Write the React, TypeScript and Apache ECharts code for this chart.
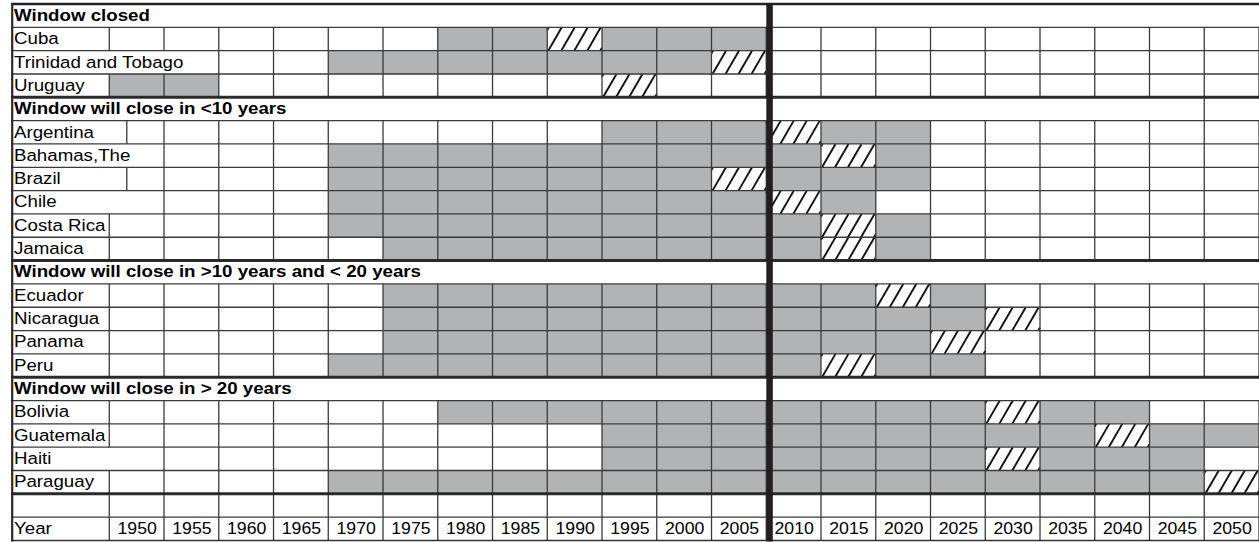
import React, { useEffect, useRef } from "react";
import * as echarts from "echarts";

// ---------- data ----------
const yearLabels = [
  "1950", "1955", "1960", "1965", "1970", "1975", "1980", "1985", "1990", "1995", "2000",
  "2005", "2010", "2015", "2020", "2025", "2030", "2035", "2040", "2045", "2050",
];

const rowLabels = [
  "Window closed", "Cuba", "Trinidad and Tobago", "Uruguay",
  "Window will close in <10 years", "Argentina", "Bahamas,The", "Brazil", "Chile", "Costa Rica", "Jamaica",
  "Window will close in >10 years and < 20 years", "Ecuador", "Nicaragua", "Panama", "Peru",
  "Window will close in > 20 years", "Bolivia", "Guatemala", "Haiti", "Paraguay",
  "", "Year",
];

const rowKinds = [
  "header", "country", "country", "country",
  "header", "country", "country", "country", "country", "country", "country",
  "header", "country", "country", "country", "country",
  "header", "country", "country", "country", "country",
  "blank", "year",
];

// g = window open (grey), h = window closes (hatched), . = empty  (one char per year column)
const rowStates = [
  "",
  "......gghggg.........",
  "....gggggggh.........",
  "gg.......h...........",
  "",
  ".........ggghgg......",
  "....ggggggggghg......",
  "....ggggggghggg......",
  "....gggggggghg.......",
  "....ggggggggghg......",
  ".....gggggggghg......",
  "",
  ".....ggggggggghg.....",
  ".....gggggggggggh....",
  ".....ggggggggggh.....",
  "....ggggggggghgg.....",
  "",
  "......gggggggggghgg..",
  ".........ggggggggghgg",
  ".........ggggggghggg.",
  "....ggggggggggggggggh",
  "",
  "",
];

const projectionStart = "2010";

// ---------- layout / style ----------
const LABEL_UNITS = 1.795;
const N_COLS = yearLabels.length;
const N_ROWS = rowLabels.length;
const SECTION_BOUNDARIES = [4, 11, 16, 21];
const GRAY = "#b1b3b5";
const LINE = "#3a3a3a";
const FONT = '"Liberation Sans", Arial, Helvetica, sans-serif';
const labelEdges: Record<string, number> = {
  "Trinidad and Tobago": 2,
  "Bahamas,The": 1,
  Chile: 1,
  Haiti: 1,
  Argentina: 0.32,
  Brazil: 0.32,
};
const headerRules: Record<string, number[]> = {
  "Window will close in <10 years": [20],
};

export default function App() {
  const ref = useRef<HTMLDivElement>(null);

  useEffect(() => {
    if (!ref.current) return;
    const chart = echarts.init(ref.current, null, { renderer: "svg" });

    const cells: number[][] = [];
    rowStates.forEach((s, r) => {
      for (let c = 0; c < s.length; c++) {
        if (s[c] === "g") cells.push([c, r, 1]);
        else if (s[c] === "h") cells.push([c, r, 2]);
      }
    });

    const textItems: { col: number; row: number; text: string; kind: string }[] = [];
    rowLabels.forEach((t, r) => {
      if (t) textItems.push({ col: -1, row: r, text: t, kind: rowKinds[r] });
    });
    const yearRow = rowKinds.indexOf("year");
    yearLabels.forEach((t, c) => textItems.push({ col: c, row: yearRow, text: t, kind: "tick" }));

    const projIdx = yearLabels.indexOf(projectionStart);

    const option: any = {
      animation: false,
      backgroundColor: "#ffffff",
      grid: { left: 11, top: 4, width: 1251.5, height: 536.5 },
      xAxis: { type: "value", min: -LABEL_UNITS, max: N_COLS, show: false },
      yAxis: { type: "value", min: 0, max: N_ROWS, inverse: true, show: false },
      series: [
        {
          type: "custom",
          name: "cells",
          z: 1,
          data: cells,
          renderItem: (params: any, api: any) => {
            const c = api.value(0), r = api.value(1), s = api.value(2);
            const a = api.coord([c, r]);
            const b = api.coord([c + 1, r + 1]);
            const x = a[0], y = a[1], w = b[0] - a[0], h = b[1] - a[1];
            if (s === 1) {
              return { type: "rect", shape: { x, y, width: w, height: h }, style: { fill: GRAY } };
            }
            const children: any[] = [
              { type: "rect", shape: { x, y, width: w, height: h }, style: { fill: "#ffffff" } },
            ];
            const dx = 13.5, step = 13;
            for (let xb = x + 1 - 2 * step; xb < x + w; xb += step) {
              const t0 = Math.max(0, (x - xb) / dx);
              const t1 = Math.min(1, (x + w - xb) / dx);
              if (t1 <= t0) continue;
              children.push({
                type: "line",
                shape: { x1: xb + dx * t0, y1: y + h - h * t0, x2: xb + dx * t1, y2: y + h - h * t1 },
                style: { stroke: "#111111", lineWidth: 1.9 },
              });
            }
            return { type: "group", children };
          },
        },
        {
          type: "custom",
          name: "vrules",
          z: 2,
          data: rowLabels.map((_, i) => [0, i]),
          renderItem: (params: any, api: any) => {
            const r = params.dataIndex;
            const children: any[] = [];
            let xs: number[] = [];
            if (rowKinds[r] !== "header") {
              const edge = labelEdges[rowLabels[r]] ?? 0;
              xs = [edge];
              for (let k = Math.floor(edge) + 1; k <= N_COLS; k++) xs.push(k);
            } else {
              xs = headerRules[rowLabels[r]] ?? [];
            }
            xs.forEach((k) => {
              const a = api.coord([k, r]);
              const b = api.coord([k, r + 1]);
              children.push({
                type: "line",
                shape: { x1: a[0], y1: a[1], x2: b[0], y2: b[1] },
                style: { stroke: LINE, lineWidth: 1.3 },
              });
            });
            return { type: "group", children };
          },
        },
        {
          type: "custom",
          name: "hrules",
          z: 3,
          data: Array.from({ length: N_ROWS + 1 }, (_, i) => [0, i]),
          renderItem: (params: any, api: any) => {
            const b = params.dataIndex;
            const a = api.coord([-LABEL_UNITS, b]);
            const e = api.coord([N_COLS, b]);
            let lw = 1.3, col = LINE;
            if (b === 0) { lw = 2.4; col = "#222222"; }
            else if (SECTION_BOUNDARIES.includes(b)) { lw = 3; col = "#2a2a2a"; }
            else if (b === N_ROWS) { lw = 1.6; col = "#333333"; }
            return {
              type: "line",
              shape: { x1: a[0], y1: a[1], x2: e[0], y2: e[1] },
              style: { stroke: col, lineWidth: lw },
            };
          },
        },
        {
          type: "custom",
          name: "frame",
          z: 4,
          data: [[projIdx, 0]],
          renderItem: (params: any, api: any) => {
            const k = api.value(0);
            const top = api.coord([k, 0]);
            const bot = api.coord([k, N_ROWS]);
            const lt = api.coord([-LABEL_UNITS, 0]);
            const lb = api.coord([-LABEL_UNITS, N_ROWS]);
            return {
              type: "group",
              children: [
                {
                  type: "line",
                  shape: { x1: top[0] + 3.3, y1: top[1] - 1, x2: bot[0] + 3.3, y2: bot[1] + 1 },
                  style: { stroke: "#231f20", lineWidth: 6.5 },
                },
                {
                  type: "line",
                  shape: { x1: lt[0] + 1.2, y1: lt[1] - 1, x2: lb[0] + 1.2, y2: lb[1] + 1 },
                  style: { stroke: "#2a2a2a", lineWidth: 2.2 },
                },
              ],
            };
          },
        },
        {
          type: "custom",
          name: "texts",
          z: 5,
          data: textItems.map((t) => [t.col, t.row]),
          renderItem: (params: any, api: any) => {
            const it = textItems[params.dataIndex];
            if (it.kind === "tick") {
              const p = api.coord([it.col + 0.5, it.row + 0.5]);
              return {
                type: "text",
                x: p[0] + 0.5,
                y: p[1] - 0.5,
                scaleX: 1.04,
                style: {
                  text: it.text, fill: "#000000", fontSize: 17, fontFamily: FONT,
                  align: "center", verticalAlign: "middle",
                  textAlign: "center", textVerticalAlign: "middle",
                },
              };
            }
            const p = api.coord([-LABEL_UNITS, it.row + 0.5]);
            return {
              type: "text",
              x: p[0] + 3,
              y: p[1] - 0.5,
              scaleX: 1.1,
              style: {
                text: it.text, fill: "#000000", fontSize: 17, fontFamily: FONT,
                fontWeight: it.kind === "header" ? "bold" : "normal",
                align: "left", verticalAlign: "middle",
                textAlign: "left", textVerticalAlign: "middle",
              },
            };
          },
        },
      ],
    };

    chart.setOption(option);
    return () => chart.dispose();
  }, []);

  return (
    <div
      ref={ref}
      style={{ position: "absolute", left: 0, top: 0, width: 1259, height: 542, background: "#ffffff" }}
    />
  );
}
